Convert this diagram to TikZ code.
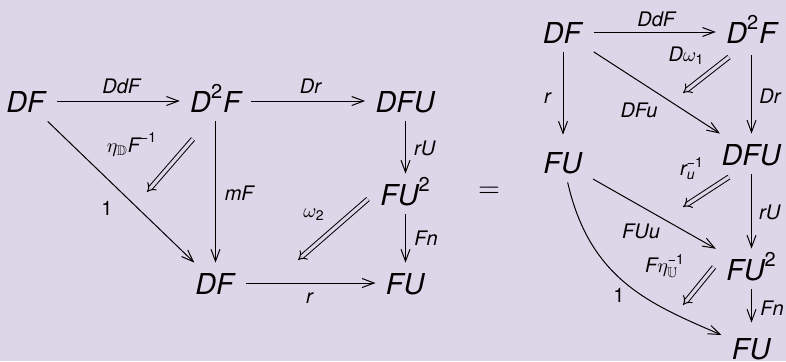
\documentclass[tikz,border=0pt]{standalone}
\usepackage{amsmath,amssymb}
\usepackage{fontspec}
\setmainfont{TeX Gyre Heros}
\usetikzlibrary{arrows.meta}
\definecolor{bg}{RGB}{221,214,233}
\begin{document}
\begin{tikzpicture}[x=0.5pt,y=-0.5pt,
  obj/.style={anchor=base, font=\fontsize{14.4}{17}\selectfont, text height=11pt, text depth=0pt, inner xsep=5pt, inner ysep=4.5pt},
  lab/.style={anchor=base, font=\fontsize{10}{12}\selectfont, inner sep=0pt},
  arr/.style={line width=0.5pt, -{Straight Barb[length=6pt,width=4.5pt]}},
  darr/.style={line width=0.5pt, double=bg, double distance=1.6pt, -{Implies}}]
\path[use as bounding box, fill=bg] (0,0) rectangle (786,361);

% left diagram
\node[obj] (L1) at (26.5,112) {\textit{DF}};
\node[obj] (L2) at (215.5,112) {$\textit{D}^{\textup{2}}\textit{F}$};
\node[obj] (L3) at (405.5,112) {\textit{DFU}};
\node[obj] (L4) at (405.5,205) {$\textit{FU}^{\textup{2}}$};
\node[obj] (L5) at (215.5,294) {\textit{DF}};
\node[obj] (L6) at (405.5,294) {\textit{FU}};

\draw[arr] (L1) -- (L2);
\draw[arr] (L2) -- (L3);
\draw[arr] (L3) -- (L4);
\draw[arr] (L4) -- (L6);
\draw[arr] (L5) -- (L6);
\draw[arr] (L2) -- (L5);
\draw[arr] (L1) -- (L5);

\coordinate (e1s) at (193,139);
\coordinate (e1e) at (147,192);
\coordinate (w2s) at (368,199);
\coordinate (w2e) at (298,260);
\draw[darr] (e1s) -- (e1e);
\draw[darr] (w2s) -- (w2e);

\node[lab] (lDdF) at (122,93) {\textit{DdF}};
\node[lab] (lDr) at (311,93) {\textit{Dr}};
\node[lab] (lrU) at (425,155) {\textit{rU}};
\node[lab] (lFn) at (426,245) {\textit{Fn}};
\node[lab] (lr) at (310,303) {\textit{r}};
\node[lab] (lmF) at (240,200) {\textit{mF}};
\node[lab] (l1) at (107,215) {1};
\node[lab] (leta) at (132,152) {$\eta_{\mathbb{D}}\textit{F}^{\textup{−1}}$};
\node[lab] (lom) at (314,217) {$\omega_{\textup{2}}$};

\node[font=\fontsize{14.4}{17}\selectfont, inner sep=0pt] (eq) at (489,192.5) {$=$};

% right diagram
\node[obj] (R1) at (563,43) {\textit{DF}};
\node[obj] (R2) at (751.5,43) {$\textit{D}^{\textup{2}}\textit{F}$};
\node[obj] (R3) at (563,173) {\textit{FU}};
\node[obj] (R4) at (751.5,165) {\textit{DFU}};
\node[obj] (R5) at (751.5,280) {$\textit{FU}^{\textup{2}}$};
\node[obj] (R6) at (751.5,359) {\textit{FU}};

\draw[arr] (R1) -- (R2);
\draw[arr, shorten >=3.5pt] (R1) -- (R3);
\draw[arr, shorten <=1.5pt] (R2) -- (R4);
\draw[arr] (R1) -- (R4);
\draw[arr] (R4) -- (R5);
\draw[arr] (R3) -- (R5);
\draw[arr, shorten >=2.5pt] (R5) -- (R6);
\draw[arr] (R3) .. controls (590,280) and (650,304) .. (R6);

\coordinate (w1s) at (729,57);
\coordinate (w1e) at (683,93);
\coordinate (rus) at (729,177);
\coordinate (rue) at (683,207);
\coordinate (ets) at (714,267);
\coordinate (ete) at (683,305);
\draw[darr] (w1s) -- (w1e);
\draw[darr] (rus) -- (rue);
\draw[darr] (ets) -- (ete);

\node[lab] (rDdF) at (657,26) {\textit{DdF}};
\node[lab] (rDw) at (686.5,61) {$\textit{D}\omega_{\textup{1}}$};
\node[lab] (rr) at (548,103) {\textit{r}};
\node[lab] (rDr) at (770.5,103) {\textit{Dr}};
\node[lab] (rDFu) at (639,117) {\textit{DFu}};
\node[lab] (rru) at (692,175) {$\textit{r}_{\textit{u}}^{\textup{−1}}$};
\node[lab] (rrU) at (770,219) {\textit{rU}};
\node[lab] (rFUu) at (641,238) {\textit{FUu}};
\node[lab] (reta) at (665,272) {$\textit{F}\eta_{\mathbb{U}}^{\textup{−1}}$};
\node[lab] (r1) at (619,302) {1};
\node[lab] (rFn) at (772,315) {\textit{Fn}};
\end{tikzpicture}
\end{document}
